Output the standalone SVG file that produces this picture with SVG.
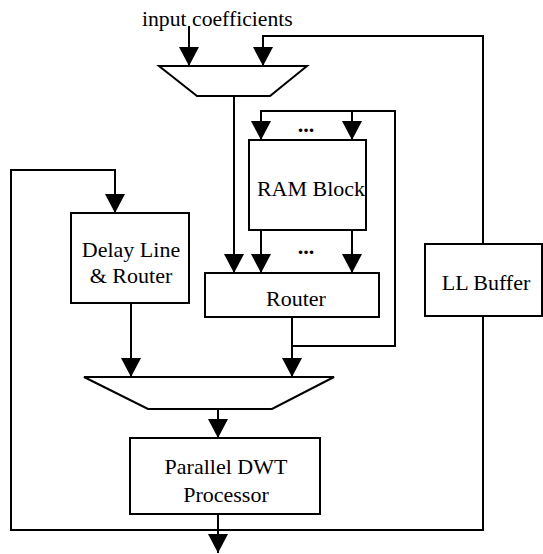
<svg xmlns="http://www.w3.org/2000/svg" width="543" height="554" viewBox="0 0 543 554">
<style>
.box{fill:#fff;stroke:#000;stroke-width:2}
.wire{fill:none;stroke:#000;stroke-width:2}
text{font-family:"Liberation Serif","Times New Roman",serif;font-size:22px;fill:#000}
.c{text-anchor:middle}
</style>
<defs>
<marker id="ah" markerUnits="userSpaceOnUse" markerWidth="22" markerHeight="22" viewBox="0 0 22 22" refX="19" refY="11" orient="auto">
<path d="M0,1 L19,11 L0,21 Z" fill="#000"/>
</marker>
</defs>
<rect width="543" height="554" fill="#fff"/>
<g id="connectors">
<path class="wire" d="M189,26 V66" marker-end="url(#ah)"/>
<path class="wire" d="M483,244 V36 H263 V66" marker-end="url(#ah)"/>
<path class="wire" d="M234,96 V273" marker-end="url(#ah)"/>
<path class="wire" d="M292,317 V377" marker-end="url(#ah)"/>
<path class="wire" d="M292,346 H395 V111 H261 V140" marker-end="url(#ah)"/>
<path class="wire" d="M352,111 V140" marker-end="url(#ah)"/>
<path class="wire" d="M261,230 V273" marker-end="url(#ah)"/>
<path class="wire" d="M352,230 V273" marker-end="url(#ah)"/>
<path class="wire" d="M131,303 V377" marker-end="url(#ah)"/>
<path class="wire" d="M218,409 V438" marker-end="url(#ah)"/>
<path class="wire" d="M218,514 V553" marker-end="url(#ah)"/>
<path class="wire" d="M218,530 H11 V170 H115 V213" marker-end="url(#ah)"/>
<path class="wire" d="M218,530 H483 V316"/>
</g>
<g id="input-label">
<text x="142" y="26" style="font-size:21.7px">input coefficients</text>
</g>
<g id="mux1">
<polygon class="box" points="159,66 307,66 270,96 197,96"/>
</g>
<g id="ram-block">
<rect class="box" x="249" y="140" width="117" height="90"/>
<text x="311" y="196" class="c">RAM Block</text>
</g>
<g id="dots-top"><text x="306" y="132" class="c" font-weight="bold">...</text></g>
<g id="dots-bottom"><text x="306" y="254" class="c" font-weight="bold">...</text></g>
<g id="router">
<rect class="box" x="205" y="273" width="174" height="44"/>
<text x="296" y="306" class="c">Router</text>
</g>
<g id="delay-line">
<rect class="box" x="71" y="213" width="118" height="90"/>
<text x="131" y="257" class="c">Delay Line</text>
<text x="131" y="283" class="c">&amp; Router</text>
</g>
<g id="ll-buffer">
<rect class="box" x="425" y="244" width="117" height="72"/>
<text x="486" y="290" class="c">LL Buffer</text>
</g>
<g id="mux2">
<polygon class="box" points="84,377 334,377 272,409 148,409"/>
</g>
<g id="dwt-processor">
<rect class="box" x="130" y="438" width="190" height="76"/>
<text x="226" y="474" class="c">Parallel DWT</text>
<text x="226" y="502" class="c">Processor</text>
</g>
</svg>
